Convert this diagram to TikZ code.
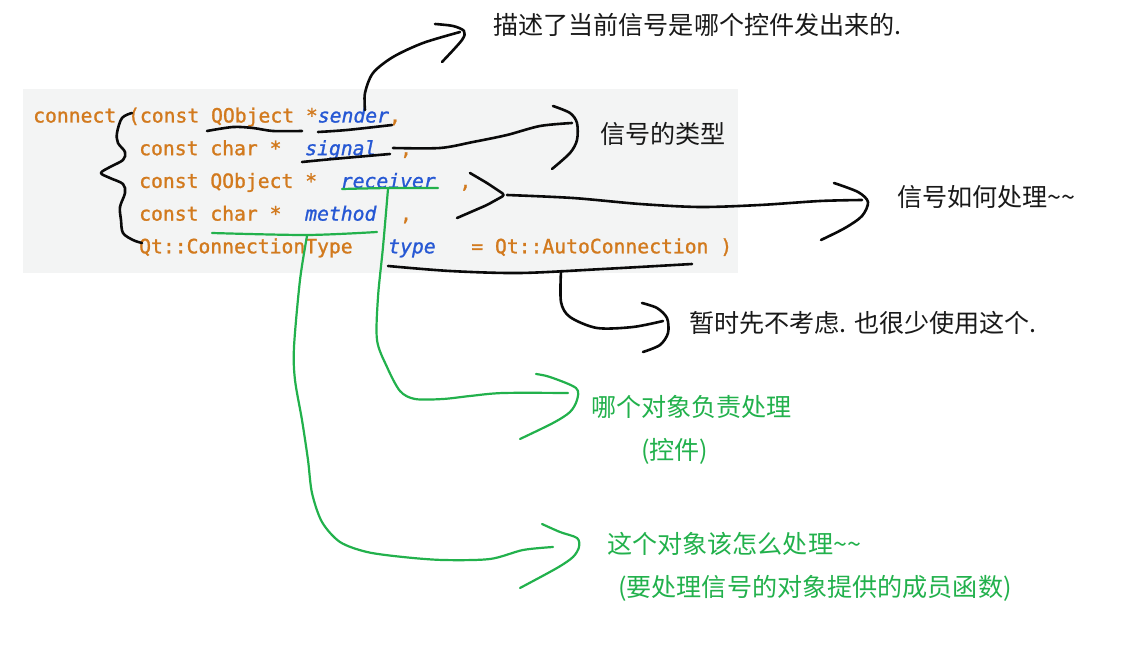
\documentclass[tikz,border=0pt]{standalone}
\usepackage{fontspec}
\newfontfamily\cjk{Noto Sans CJK SC}
\newfontfamily\codefont{DejaVu Sans Mono}[FakeBold=1.2]
\definecolor{kworange}{RGB}{210,122,30}
\definecolor{kwblue}{RGB}{38,88,212}
\definecolor{codebg}{RGB}{243,244,244}
\definecolor{penblack}{RGB}{10,10,10}
\definecolor{pengreen}{RGB}{34,177,76}
\definecolor{labelblack}{RGB}{25,25,25}
\tikzset{
  codeline/.style={anchor=base west, inner sep=0pt, font=\codefont\fontsize{19.7}{22}\selectfont, text=kworange},
  note/.style={anchor=west, inner sep=0pt, font=\cjk\fontsize{25.1}{28}\selectfont, text=labelblack},
  gnote/.style={note, text=pengreen},
  bpen/.style={draw=penblack, line width=2.6pt, line cap=round, line join=round},
  gpen/.style={draw=pengreen, line width=2.2pt, line cap=round, line join=round},
}
\newcommand{\cparam}[1]{\textcolor{kwblue}{\itshape #1}}
\begin{document}
\begin{tikzpicture}[x=1pt,y=-1pt]
\useasboundingbox[fill=white] (0,0) rectangle (1128,655);
\fill[codebg] (23,89) rectangle (738,273);

% code lines
\node[codeline] (l1) at (33,122.5) {connect (const QObject *\cparam{sender},};
\node[codeline] (l2) at (139,155.2) {const char *\ \ \cparam{signal}\ \ ,};
\node[codeline] (l3) at (139,187.9) {const QObject *\ \ \cparam{receiver}\ \ ,};
\node[codeline] (l4) at (139,220.6) {const char *\ \ \cparam{method}\ \ ,};
\node[codeline] (l5) at (139,253.3) {Qt::ConnectionType\ \ \ \cparam{type}\ \ \ = Qt::AutoConnection )};

% labels
\node[note] (t1) at (493,25) {描述了当前信号是哪个控件发出来的.};
\node[note] (t2) at (600,134) {信号的类型};
\node[note] (t3) at (897,197) {信号如何处理\textasciitilde\textasciitilde};
\node[note] (t4) at (689,323) {暂时先不考虑. 也很少使用这个.};
\node[gnote] (g1) at (591,407) {哪个对象负责处理};
\node[gnote] (g2) at (641,451) {(控件)};
\node[gnote] (g3) at (607,544) {这个对象该怎么处理\textasciitilde\textasciitilde};
\node[gnote] (g4) at (618,588) {(要处理信号的对象提供的成员函数)};

% black pen strokes
% brace
\draw[bpen] plot[smooth, tension=0.55] coordinates {(132,113) (122,118) (117,133) (118,143) (125,152) (123,160) (110,167) (101,173) (110,178) (123,184) (125,193) (120,207) (121,220) (123,233) (133,240) (142,243)};
% QObject underline
\draw[bpen] plot[smooth] coordinates {(207,131) (233,127) (253,128) (273,131) (302,131)};
% sender underline
\draw[bpen] plot[smooth] coordinates {(318,132) (347,130) (392,125)};
% sender curve up
\draw[bpen] plot[smooth] coordinates {(365,110) (365,93) (373,73) (393,57) (423,43) (460,32)};
\draw[bpen] plot[smooth] coordinates {(435,24) (453,26) (464,31) (462,40) (442,62)};
% signal underline and curve
\draw[bpen] plot[smooth] coordinates {(302,162) (333,159) (390,154)};
\draw[bpen] plot[smooth] coordinates {(393,148) (440,148) (473,142) (507,135) (540,126) (572,123)};
\draw[bpen] plot[smooth] coordinates {(553,106) (570,113) (577,123) (577,140) (570,153) (552,169)};
% receiver/method ">" and long line
\draw[bpen, rounded corners=3pt] (470,173) -- (487,183) -- (505,195) -- (487,205) -- (457,218);
\draw[bpen] plot[smooth] coordinates {(507,195) (573,198) (640,204) (700,207) (760,205) (820,201) (862,200)};
\draw[bpen] plot[smooth] coordinates {(834,183) (858,192) (868,202) (862,216) (845,228) (821,240)};
% type underline
\draw[bpen] plot[smooth] coordinates {(388,266) (450,271) (520,273) (603,269) (692,264)};
\draw[bpen] plot[smooth] coordinates {(561,271) (561,302) (570,317) (597,328) (633,327) (663,321)};
\draw[bpen] plot[smooth] coordinates {(642,303) (657,308) (667,318) (668,333) (660,345) (643,352)};

% green pen strokes
\draw[gpen] plot[smooth] coordinates {(342,189) (390,188) (438,188)};
\draw[gpen] plot[smooth] coordinates {(212,233) (307,235) (377,232)};
\draw[gpen] plot[smooth] coordinates {(388,189) (383,247) (378,297) (377,340) (387,367) (400,391) (415,399) (443,399) (470,396) (503,393) (568,393)};
\draw[gpen] plot[smooth] coordinates {(536,374) (550,377) (576,388) (577,400) (570,412) (553,423) (520,439)};
\draw[gpen] plot[smooth] coordinates {(307,236) (300,280) (294,347) (295,380) (302,420) (308,460) (312,493) (322,522) (340,542) (367,552) (403,557) (443,560) (490,559) (523,550) (553,547)};
\draw[gpen] plot[smooth] coordinates {(542,524) (560,532) (577,538) (579,547) (573,557) (557,568) (520,588)};
\end{tikzpicture}
\end{document}
